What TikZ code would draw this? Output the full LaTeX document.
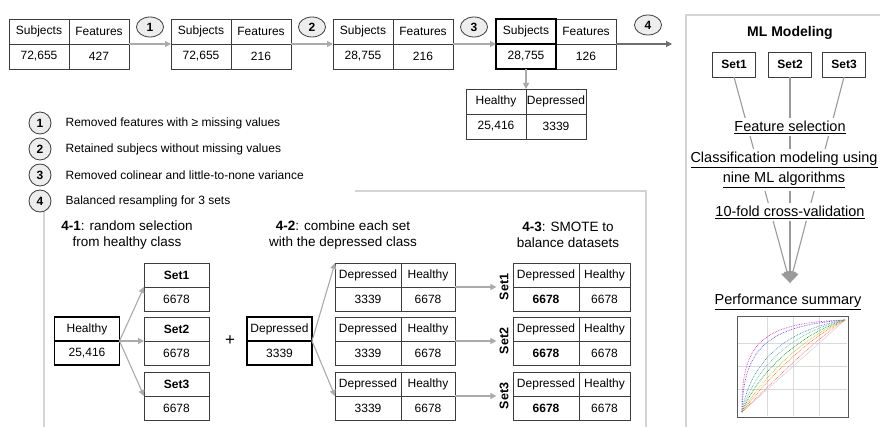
\documentclass[tikz,border=0pt]{standalone}
\usepackage{fontspec}
\setmainfont{Liberation Sans}
\usetikzlibrary{positioning,shapes.geometric,arrows.meta}

\definecolor{tabline}{HTML}{3C3C3C}
\definecolor{arrowgray}{HTML}{AAAAAA}
\definecolor{darkarrowgray}{HTML}{6E6E6E}
\definecolor{linkgray}{HTML}{9A9A9A}
\definecolor{framegray}{HTML}{D4D4D4}
\definecolor{markfill}{HTML}{EDEDED}

\begin{document}
\begin{tikzpicture}[
    x=1pt, y=-1pt,
    cellbox/.style={
        draw=tabline,
        line width=0.8pt,
        minimum width=60pt,
        minimum height=25pt,
        inner sep=0pt,
        outer sep=0pt,
        font=\fontsize{12}{14}\selectfont
    },
    boldcell/.style={cellbox, draw=black, line width=1.8pt},
    setcell/.style={cellbox, minimum width=65pt, minimum height=24pt},
    setbox/.style={cellbox, minimum width=43pt, font=\bfseries\fontsize{12}{14}\selectfont},
    stepmark/.style={
        draw=tabline,
        fill=markfill,
        ellipse,
        line width=0.8pt,
        minimum width=27pt,
        minimum height=20pt,
        inner sep=0pt,
        font=\bfseries\fontsize{12}{14}\selectfont
    },
    legmark/.style={stepmark, circle, minimum size=22pt},
    legtext/.style={font=\fontsize{12}{14}\selectfont, inner sep=0pt},
    steptitle/.style={align=center, font=\fontsize{13.5}{16.5}\selectfont},
    mltext/.style={align=center, fill=white, inner sep=3pt, font=\fontsize{14.5}{20}\selectfont},
    grayarrow/.style={draw=arrowgray, line width=1.1pt, -{Triangle[length=6pt,width=6pt]}},
    darkarrow/.style={grayarrow, draw=darkarrowgray},
    linkline/.style={draw=linkgray, line width=1.1pt},
    panelframe/.style={draw=framegray, line width=1.4pt}
]
\useasboundingbox[fill=white] (0,0) rectangle (880,427);

% preprocessing tables
\node[cellbox] (t1s) at (39,31.5) {Subjects};
\node[cellbox, right=0pt of t1s] (t1f) {Features};
\node[cellbox, below=0pt of t1s] (t1a) {72,655};
\node[cellbox, below=0pt of t1f] (t1b) {427};

\node[cellbox] (t2s) at (201,31.5) {Subjects};
\node[cellbox, right=0pt of t2s] (t2f) {Features};
\node[cellbox, below=0pt of t2s] (t2a) {72,655};
\node[cellbox, below=0pt of t2f] (t2b) {216};

\node[cellbox] (t3s) at (363,31.5) {Subjects};
\node[cellbox, right=0pt of t3s] (t3f) {Features};
\node[cellbox, below=0pt of t3s] (t3a) {28,755};
\node[cellbox, below=0pt of t3f] (t3b) {216};

\node[cellbox] (t4f) at (586,31.5) {Features};
\node[cellbox, below=0pt of t4f] (t4b) {126};
\node[boldcell, left=0pt of t4f] (t4s) {Subjects};
\node[boldcell, below=0pt of t4s] (t4a) {28,755};

\node[cellbox] (hdh) at (496,101.5) {Healthy};
\node[cellbox, right=0pt of hdh] (hdd) {Depressed};
\node[cellbox, below=0pt of hdh] (hdv) {25,416};
\node[cellbox, below=0pt of hdd] (hdw) {3339};

\node[stepmark] (st1) at (150,27) {1};
\node[stepmark] (st2) at (312,27) {2};
\node[stepmark] (st3) at (474,27) {3};
\node[stepmark] (st4) at (648,25) {4};
\coordinate (mlin) at (672,44);

\draw[grayarrow] (t1f.south east) -- (t2s.south west);
\draw[grayarrow] (t2f.south east) -- (t3s.south west);
\draw[grayarrow] (t3f.south east) -- (t4s.south west);
\draw[darkarrow] (t4f.south east) -- (mlin);
\draw[grayarrow] (t4a.south) -- (hdh.north east);

% legend
\foreach \n/\yy/\txt in {1/123/Removed features with ≥ missing values,
    2/149/Retained subjecs without missing values,
    3/175/Removed colinear and little-to-none variance,
    4/201/Balanced resampling for 3 sets}{
    \node[legmark] (leg\n) at (40,\yy) {\n};
    \node[legtext, right=14pt of leg\n] (legt\n) {\txt};
}

% resampling panel
\draw[panelframe] (355,191) -- (646,191) -- (646,427);
\draw[panelframe] (44,212) -- (44,427);

\node[steptitle] (ttl1) at (127,235) {\textbf{4-1}: random selection\\from healthy class};
\node[steptitle] (ttl2) at (343,235) {\textbf{4-2}: combine each set\\with the depressed class};
\node[steptitle] (ttl3) at (568,235) {\textbf{4-3}: SMOTE to\\balance datasets};

\node[setcell, draw=black, line width=1.8pt] (hh) at (87,329) {Healthy};
\node[setcell, draw=black, line width=1.8pt, below=0pt of hh] (hv) {25,416};
\node[font=\fontsize{17}{20}\selectfont] (plus) at (230,341) {+};
\node[setcell, draw=black, line width=1.8pt] (dh) at (279.5,329) {Depressed};
\node[setcell, draw=black, line width=1.8pt, below=0pt of dh] (dv) {3339};

\foreach \i/\y in {1/263,2/317,3/372}{
    \node[setcell, anchor=north west, font=\bfseries\fontsize{12}{14}\selectfont] (sh\i) at (144,\y) {Set\i};
    \node[setcell, below=0pt of sh\i] (sv\i) {6678};
    \node[setcell, anchor=north west, minimum width=66pt] (ch\i) at (335,\y) {Depressed};
    \node[setcell, minimum width=54pt, right=0pt of ch\i] (cf\i) {Healthy};
    \node[setcell, minimum width=66pt, below=0pt of ch\i] (cv\i) {3339};
    \node[setcell, minimum width=54pt, below=0pt of cf\i] (cw\i) {6678};
    \node[setcell, anchor=north west, minimum width=66pt] (mh\i) at (513,\y) {Depressed};
    \node[setcell, minimum width=51pt, right=0pt of mh\i] (mf\i) {Healthy};
    \node[setcell, minimum width=66pt, below=0pt of mh\i] (mv\i) {\textbf{6678}};
    \node[setcell, minimum width=51pt, below=0pt of mf\i] (mw\i) {6678};
    \node[font=\bfseries\fontsize{12.5}{14}\selectfont, rotate=90, inner sep=3pt] (ml\i) at (504,\y+24) {Set\i};
    \draw[grayarrow] (hh.south east) -- (sh\i.south west);
    \draw[grayarrow] (cf\i.south east) -- (ml\i.north);
}
\draw[grayarrow] (dh.south east) -- (ch1.north west);
\draw[grayarrow] (dh.south east) -- (ch3.south west);

% ML modeling panel
\node[font=\bfseries\fontsize{14}{16}\selectfont] (mlt) at (790,33) {ML Modeling};
\node[setbox] (ms1) at (734,64.5) {Set1};
\node[setbox] (ms2) at (790,64.5) {Set2};
\node[setbox] (ms3) at (844,64.5) {Set3};
\coordinate (tip) at (790,283);
\foreach \i in {1,2,3}
    \draw[linkline, -{Triangle[length=11pt,width=12pt]}] (ms\i.south) -- (tip);

\node[mltext] (fsel) at (790,127) {\underline{Feature selection}};
\node[mltext] (cmod) at (784,170) {\underline{Classification modeling using}\\\underline{nine ML algorithms}};
\node[mltext] (cval) at (790,212) {\underline{10-fold cross-validation}};
\node[mltext] (perf) at (788,302) {\underline{Performance summary}};
\draw[panelframe] (686,427) -- (686,15) -- (880,15);

% roc thumbnail
\draw[black!15, line width=0.3pt] (767,317) -- (767,416) (793,317) -- (793,416) (819,317) -- (819,416)
    (738,343) -- (847,343) (738,366) -- (847,366) (738,389) -- (847,389);
\draw[black!65, line width=0.6pt] (737,316) rectangle (848,417);
\draw[black!20, line width=0.4pt] (742,412) -- (845,320);
\draw[densely dotted, line width=0.7pt, magenta!80] (742,412) .. controls (741,342) and (762,323) .. (845,320);
\draw[densely dotted, line width=0.7pt, blue!70] (742,412) .. controls (743,348) and (768,326) .. (845,320);
\draw[densely dotted, line width=0.7pt, cyan!70!black] (742,412) .. controls (750,362) and (785,330) .. (845,320);
\draw[densely dotted, line width=0.7pt, green!60!black] (742,412) .. controls (758,372) and (800,334) .. (845,320);
\draw[densely dotted, line width=0.7pt, teal!60] (742,412) .. controls (755,366) and (793,332) .. (845,320);
\draw[densely dotted, line width=0.7pt, orange] (742,412) .. controls (768,378) and (808,338) .. (845,320);
\draw[densely dotted, line width=0.7pt, red!60] (742,412) .. controls (774,381) and (814,340) .. (845,320);
\draw[densely dotted, line width=0.7pt, yellow!70!black] (742,412) .. controls (764,376) and (804,336) .. (845,320);
\end{tikzpicture}
\end{document}
